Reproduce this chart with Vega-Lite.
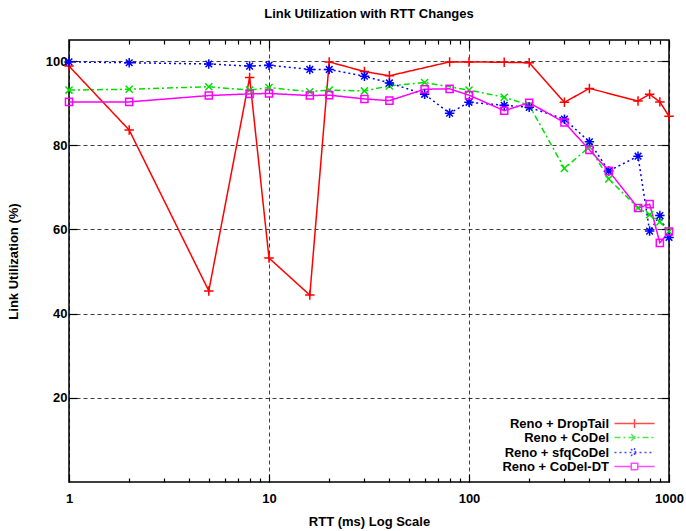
{
  "$schema": "https://vega.github.io/schema/vega-lite/v6.json",
  "width": 600,
  "height": 442,
  "autosize": {"type": "none"},
  "padding": {"left": 69, "top": 40, "right": 17, "bottom": 49},
  "title": {"text": "Link Utilization with RTT Changes", "font": "Liberation Sans", "fontSize": 13, "fontWeight": "bold", "color": "black", "offset": 18, "anchor": "middle"},
  "config": {
    "view": {"stroke": "black", "strokeWidth": 1.5},
    "axis": {"labelFont": "Liberation Sans", "labelFontWeight": "bold", "labelFontSize": 13, "labelColor": "black", "titleFont": "Liberation Sans", "titleFontWeight": "bold", "titleFontSize": 13, "titleColor": "black", "tickColor": "black", "tickWidth": 1.2, "domain": false, "labelFlush": false, "gridColor": "black", "gridDash": [4, 3], "gridWidth": 1, "gridOpacity": 0.75},
    "legend": {"labelFont": "Liberation Sans", "labelFontWeight": "bold", "labelFontSize": 13, "labelColor": "black"}
  },
  "data": {"values": [
    {"series": "Reno + DropTail", "rtt": 1, "util": 98.8},
    {"series": "Reno + DropTail", "rtt": 2, "util": 83.6},
    {"series": "Reno + DropTail", "rtt": 5, "util": 45.4},
    {"series": "Reno + DropTail", "rtt": 8, "util": 96.1},
    {"series": "Reno + DropTail", "rtt": 10, "util": 53.2},
    {"series": "Reno + DropTail", "rtt": 16, "util": 44.4},
    {"series": "Reno + DropTail", "rtt": 20, "util": 99.8},
    {"series": "Reno + DropTail", "rtt": 30, "util": 97.5},
    {"series": "Reno + DropTail", "rtt": 40, "util": 96.5},
    {"series": "Reno + DropTail", "rtt": 80, "util": 99.8},
    {"series": "Reno + DropTail", "rtt": 100, "util": 99.8},
    {"series": "Reno + DropTail", "rtt": 150, "util": 99.7},
    {"series": "Reno + DropTail", "rtt": 200, "util": 99.6},
    {"series": "Reno + DropTail", "rtt": 300, "util": 90.2},
    {"series": "Reno + DropTail", "rtt": 400, "util": 93.5},
    {"series": "Reno + DropTail", "rtt": 700, "util": 90.5},
    {"series": "Reno + DropTail", "rtt": 800, "util": 92.1},
    {"series": "Reno + DropTail", "rtt": 900, "util": 90.3},
    {"series": "Reno + DropTail", "rtt": 1000, "util": 86.9},
    {"series": "Reno + CoDel", "rtt": 1, "util": 93.1},
    {"series": "Reno + CoDel", "rtt": 2, "util": 93.3},
    {"series": "Reno + CoDel", "rtt": 5, "util": 93.9},
    {"series": "Reno + CoDel", "rtt": 8, "util": 93.1},
    {"series": "Reno + CoDel", "rtt": 10, "util": 93.7},
    {"series": "Reno + CoDel", "rtt": 16, "util": 92.7},
    {"series": "Reno + CoDel", "rtt": 20, "util": 93.1},
    {"series": "Reno + CoDel", "rtt": 30, "util": 92.9},
    {"series": "Reno + CoDel", "rtt": 40, "util": 94.1},
    {"series": "Reno + CoDel", "rtt": 60, "util": 94.9},
    {"series": "Reno + CoDel", "rtt": 100, "util": 93.1},
    {"series": "Reno + CoDel", "rtt": 150, "util": 91.4},
    {"series": "Reno + CoDel", "rtt": 200, "util": 89.5},
    {"series": "Reno + CoDel", "rtt": 300, "util": 74.5},
    {"series": "Reno + CoDel", "rtt": 400, "util": 79.6},
    {"series": "Reno + CoDel", "rtt": 500, "util": 72.0},
    {"series": "Reno + CoDel", "rtt": 700, "util": 65.1},
    {"series": "Reno + CoDel", "rtt": 800, "util": 63.5},
    {"series": "Reno + CoDel", "rtt": 900, "util": 61.8},
    {"series": "Reno + CoDel", "rtt": 1000, "util": 59.5},
    {"series": "Reno + sfqCoDel", "rtt": 1, "util": 99.8},
    {"series": "Reno + sfqCoDel", "rtt": 2, "util": 99.6},
    {"series": "Reno + sfqCoDel", "rtt": 5, "util": 99.3},
    {"series": "Reno + sfqCoDel", "rtt": 8, "util": 98.8},
    {"series": "Reno + sfqCoDel", "rtt": 10, "util": 99.0},
    {"series": "Reno + sfqCoDel", "rtt": 16, "util": 98.0},
    {"series": "Reno + sfqCoDel", "rtt": 20, "util": 98.0},
    {"series": "Reno + sfqCoDel", "rtt": 30, "util": 96.4},
    {"series": "Reno + sfqCoDel", "rtt": 40, "util": 94.8},
    {"series": "Reno + sfqCoDel", "rtt": 60, "util": 92.1},
    {"series": "Reno + sfqCoDel", "rtt": 80, "util": 87.6},
    {"series": "Reno + sfqCoDel", "rtt": 100, "util": 90.2},
    {"series": "Reno + sfqCoDel", "rtt": 150, "util": 89.5},
    {"series": "Reno + sfqCoDel", "rtt": 200, "util": 89.0},
    {"series": "Reno + sfqCoDel", "rtt": 300, "util": 86.2},
    {"series": "Reno + sfqCoDel", "rtt": 400, "util": 80.8},
    {"series": "Reno + sfqCoDel", "rtt": 500, "util": 73.9},
    {"series": "Reno + sfqCoDel", "rtt": 700, "util": 77.4},
    {"series": "Reno + sfqCoDel", "rtt": 800, "util": 59.6},
    {"series": "Reno + sfqCoDel", "rtt": 900, "util": 63.3},
    {"series": "Reno + sfqCoDel", "rtt": 1000, "util": 58.1},
    {"series": "Reno + CoDel-DT", "rtt": 1, "util": 90.3},
    {"series": "Reno + CoDel-DT", "rtt": 2, "util": 90.3},
    {"series": "Reno + CoDel-DT", "rtt": 5, "util": 91.8},
    {"series": "Reno + CoDel-DT", "rtt": 8, "util": 92.2},
    {"series": "Reno + CoDel-DT", "rtt": 10, "util": 92.3},
    {"series": "Reno + CoDel-DT", "rtt": 16, "util": 91.8},
    {"series": "Reno + CoDel-DT", "rtt": 20, "util": 91.9},
    {"series": "Reno + CoDel-DT", "rtt": 30, "util": 91.0},
    {"series": "Reno + CoDel-DT", "rtt": 40, "util": 90.6},
    {"series": "Reno + CoDel-DT", "rtt": 60, "util": 93.3},
    {"series": "Reno + CoDel-DT", "rtt": 80, "util": 93.4},
    {"series": "Reno + CoDel-DT", "rtt": 100, "util": 91.9},
    {"series": "Reno + CoDel-DT", "rtt": 150, "util": 88.2},
    {"series": "Reno + CoDel-DT", "rtt": 200, "util": 90.1},
    {"series": "Reno + CoDel-DT", "rtt": 300, "util": 85.4},
    {"series": "Reno + CoDel-DT", "rtt": 400, "util": 78.9},
    {"series": "Reno + CoDel-DT", "rtt": 500, "util": 73.9},
    {"series": "Reno + CoDel-DT", "rtt": 700, "util": 65.1},
    {"series": "Reno + CoDel-DT", "rtt": 800, "util": 66.0},
    {"series": "Reno + CoDel-DT", "rtt": 900, "util": 56.8},
    {"series": "Reno + CoDel-DT", "rtt": 1000, "util": 59.5}
  ]},
  "layer": [
    {
      "mark": {"type": "line", "strokeWidth": 1.5},
      "encoding": {
        "x": {"field": "rtt", "type": "quantitative", "scale": {"type": "log", "domain": [1, 1000], "nice": false},
          "axis": {"orient": "bottom", "values": [1, 10, 100, 1000], "format": "d", "grid": true, "tickSize": -8, "labelPadding": 18, "title": "RTT (ms) Log Scale", "titlePadding": 10}},
        "y": {"field": "util", "type": "quantitative", "scale": {"domain": [0, 105], "nice": false, "zero": false},
          "axis": {"orient": "left", "values": [20, 40, 60, 80, 100], "grid": true, "tickSize": -8, "labelPadding": 10, "title": "Link Utilization (%)", "titlePadding": 25}},
        "color": {"field": "series", "type": "nominal", "legend": null,
          "scale": {"domain": ["Reno + DropTail", "Reno + CoDel", "Reno + sfqCoDel", "Reno + CoDel-DT"], "range": ["#ff0000", "#00e000", "#0000ff", "#ff00ff"]}},
        "strokeDash": {"field": "series", "type": "nominal", "legend": null,
          "scale": {"domain": ["Reno + DropTail", "Reno + CoDel", "Reno + sfqCoDel", "Reno + CoDel-DT"], "range": [[1, 0], [6, 3, 2, 3], [2, 3], [1, 0]]}}
      }
    },
    {
      "mark": {"type": "point", "filled": false, "size": 90, "strokeWidth": 1.5, "opacity": 1},
      "encoding": {
        "x": {"field": "rtt", "type": "quantitative",
          "axis": {"orient": "bottom", "values": [2, 3, 4, 5, 6, 7, 8, 9, 20, 30, 40, 50, 60, 70, 80, 90, 200, 300, 400, 500, 600, 700, 800, 900], "labels": false, "grid": false, "tickSize": -4, "title": null}},
        "y": {"field": "util", "type": "quantitative",
          "axis": {"orient": "right", "values": [20, 40, 60, 80, 100], "labels": false, "grid": false, "tickSize": -8, "title": null}},
        "color": {"field": "series", "type": "nominal", "legend": null,
          "scale": {"domain": ["Reno + DropTail", "Reno + CoDel", "Reno + sfqCoDel", "Reno + CoDel-DT"], "range": ["#ff0000", "#00e000", "#0000ff", "#ff00ff"]}},
        "shape": {"field": "series", "type": "nominal", "legend": null,
          "scale": {"domain": ["Reno + DropTail", "Reno + CoDel", "Reno + sfqCoDel", "Reno + CoDel-DT"], "range": ["M-1,0H1M0,-1V1", "M-0.75,-0.75L0.75,0.75M-0.75,0.75L0.75,-0.75", "M-1,0H1M0,-1V1M-0.7,-0.7L0.7,0.7M-0.7,0.7L0.7,-0.7", "M-0.75,-0.75H0.75V0.75H-0.75Z"]}}
      }
    },
    {
      "transform": [{"filter": "false"}],
      "mark": {"type": "point", "filled": false, "size": 100, "strokeWidth": 1.5},
      "encoding": {
        "x": {"field": "rtt", "type": "quantitative",
          "axis": {"orient": "top", "values": [1, 10, 100, 1000], "labels": false, "grid": false, "tickSize": -8, "title": null}},
        "y": {"field": "util", "type": "quantitative", "axis": null},
        "color": {"field": "series", "type": "nominal", "title": null,
          "scale": {"domain": ["Reno + DropTail", "Reno + CoDel", "Reno + sfqCoDel", "Reno + CoDel-DT"], "range": ["#ff0000", "#00e000", "#0000ff", "#ff00ff"]},
          "legend": {"orient": "none", "legendX": 559, "legendY": 377, "padding": 0, "labelAlign": "right", "labelOffset": -32, "symbolSize": 100, "rowPadding": 0, "symbolStrokeWidth": 1.5}},
        "strokeDash": {"field": "series", "type": "nominal", "title": null,
          "scale": {"domain": ["Reno + DropTail", "Reno + CoDel", "Reno + sfqCoDel", "Reno + CoDel-DT"], "range": [[1, 0], [6, 3, 2, 3], [2, 3], [1, 0]]}},
        "shape": {"field": "series", "type": "nominal", "title": null,
          "scale": {"domain": ["Reno + DropTail", "Reno + CoDel", "Reno + sfqCoDel", "Reno + CoDel-DT"], "range": ["M-4,0H4M0,-0.9V0.9", "M-4,0H4M-0.65,-0.65L0.65,0.65M-0.65,0.65L0.65,-0.65", "M-4,0H4M0,-0.9V0.9M-0.7,-0.7L0.7,0.7M-0.7,0.7L0.7,-0.7", "M-4,0H-0.65M0.65,0H4M-0.65,-0.65H0.65V0.65H-0.65Z"]}}
      }
    },
    {
      "transform": [{"filter": "false"}],
      "mark": {"type": "point"},
      "encoding": {
        "x": {"field": "rtt", "type": "quantitative",
          "axis": {"orient": "top", "values": [2, 3, 4, 5, 6, 7, 8, 9, 20, 30, 40, 50, 60, 70, 80, 90, 200, 300, 400, 500, 600, 700, 800, 900], "labels": false, "grid": false, "tickSize": -4, "title": null}},
        "y": {"field": "util", "type": "quantitative", "axis": null}
      }
    }
  ],
  "resolve": {
    "scale": {"color": "independent", "shape": "independent", "strokeDash": "independent"},
    "axis": {"x": "independent", "y": "independent"}
  }
}
